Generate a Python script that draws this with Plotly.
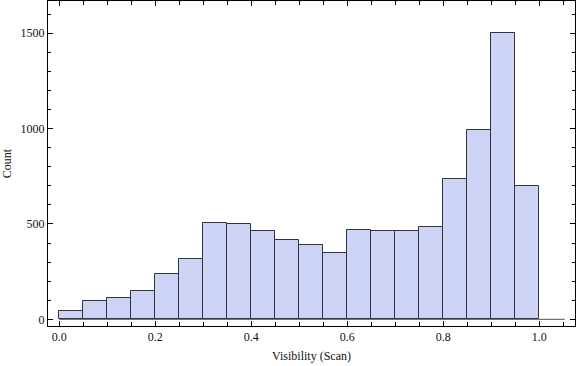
import plotly.graph_objects as go

bin_starts = [0.00, 0.05, 0.10, 0.15, 0.20, 0.25, 0.30, 0.35, 0.40, 0.45,
              0.50, 0.55, 0.60, 0.65, 0.70, 0.75, 0.80, 0.85, 0.90, 0.95]
counts = [42, 94, 110, 147, 236, 315, 503, 498, 461, 414,
          388, 346, 467, 461, 461, 482, 734, 991, 1500, 697]
bin_width = 0.05
x_ticks = [0.0, 0.2, 0.4, 0.6, 0.8, 1.0]
x_tick_labels = ["0.0", "0.2", "0.4", "0.6", "0.8", "1.0"]
y_ticks = [0, 500, 1000, 1500]
y_tick_labels = ["0", "500", "1000", "1500"]

centers = [s + bin_width / 2 for s in bin_starts]

fig = go.Figure()
fig.add_trace(go.Bar(
    x=centers, y=counts, width=bin_width,
    marker=dict(color="rgb(205,211,244)", line=dict(color="rgb(50,50,60)", width=1)),
    showlegend=False, hoverinfo="x+y",
))
fig.add_trace(go.Scatter(
    x=[bin_starts[0], 1.053], y=[0, 0], mode="lines",
    line=dict(color="rgb(80,80,90)", width=1), showlegend=False, hoverinfo="skip",
))

font = dict(family="Liberation Serif, Times New Roman, serif", size=12, color="#111")

fig.update_layout(
    width=576, height=366,
    margin=dict(l=48, r=1, t=1, b=40),
    paper_bgcolor="white", plot_bgcolor="white",
    font=font, bargap=0,
)
fig.update_xaxes(
    range=[-0.0235, 1.0744], showgrid=False, zeroline=False,
    tickvals=x_ticks, ticktext=x_tick_labels,
    ticks="inside", ticklen=5, tickwidth=1, tickcolor="black",
    minor=dict(dtick=0.05, tick0=0, ticks="inside", ticklen=4, tickwidth=1, tickcolor="black"),
    showline=True, linecolor="black", linewidth=1, mirror="ticks",
    title=dict(text="Visibility (Scan)", font=font, standoff=8),
    tickfont=font, automargin=False,
)
fig.update_yaxes(
    range=[-35.1, 1669], showgrid=False, zeroline=False,
    tickvals=y_ticks, ticktext=y_tick_labels,
    ticks="inside", ticklen=5, tickwidth=1, tickcolor="black",
    minor=dict(dtick=100, tick0=0, ticks="inside", ticklen=3, tickwidth=1, tickcolor="black"),
    showline=True, linecolor="black", linewidth=1, mirror="ticks",
    title=dict(text="Count", font=font, standoff=8),
    tickfont=font, automargin=False,
)

fig.write_html("out.html", config={"displayModeBar": False},
               post_script="document.body.style.margin='0';")
